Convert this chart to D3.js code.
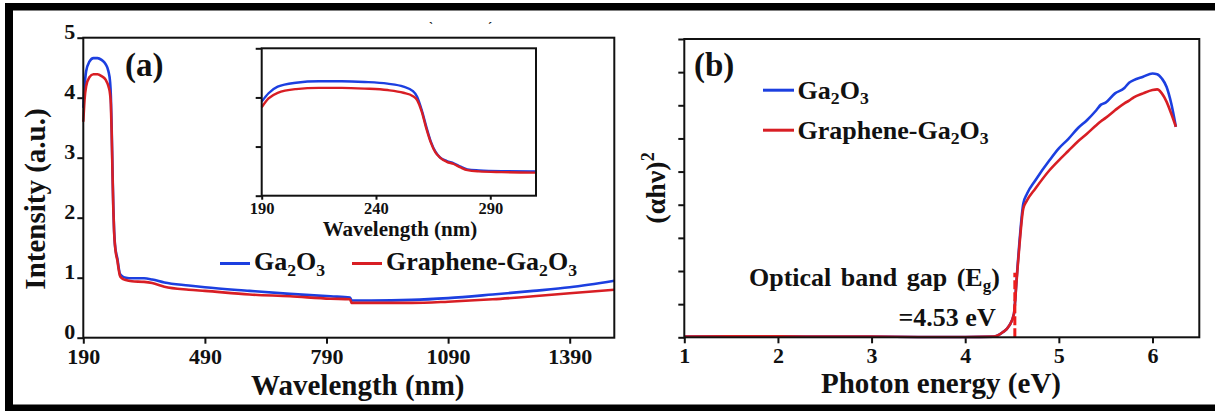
<!DOCTYPE html>
<html>
<head>
<meta charset="utf-8">
<script src="https://cdn.jsdelivr.net/npm/d3@7"></script>
<style>
  html, body { margin: 0; padding: 0; background: #fff; }
  svg { display: block; }
  text { font-family: "Liberation Serif", "Times New Roman", serif; font-weight: bold; fill: #111; }
</style>
</head>
<body>
<svg id="chart" width="1215" height="411"></svg>
<script>
// ---- Panel (a): intensity spectra ----
const wavelength = [190,193,197,205,215,225,235,245,252,256,258,260,262,264,266,268,271,274,277,280,285,295,310,
                    340,360,390,450,490,600,700,800,848,852,900,1000,1090,1200,1300,1390,1500];
const ga2o3Intensity = [3.83,4.17,4.44,4.60,4.66,4.66,4.63,4.56,4.44,4.27,4.03,3.49,2.81,2.20,1.79,1.56,1.41,1.32,1.18,1.07,1.03,1.00,0.99,
                        0.99,0.97,0.92,0.87,0.84,0.78,0.73,0.69,0.67,0.62,0.62,0.63,0.66,0.72,0.78,0.84,0.95];
const grapheneIntensity = [3.60,3.96,4.19,4.34,4.39,4.39,4.36,4.30,4.19,4.06,3.89,3.42,2.74,2.16,1.76,1.55,1.38,1.29,1.15,1.04,0.99,0.96,0.94,
                           0.93,0.91,0.85,0.80,0.78,0.72,0.69,0.65,0.64,0.58,0.58,0.58,0.60,0.64,0.69,0.74,0.80];
const xTicksA = [190, 490, 790, 1090, 1390];
const yTicksA = [0, 1, 2, 3, 4, 5];
const insetXTicks = [190, 240, 290];
const insetYTicks = [0, 2, 4, 6];

// ---- Panel (b): Tauc plot ----
const energy = [1.0,1.5,2.0,2.5,3.0,3.5,4.0,4.3,4.4,4.47,4.52,4.55,4.58,4.62,4.66,4.75,4.9,5.0,5.1,5.2,5.3,5.4,5.45,5.5,5.6,5.7,5.75,5.8,5.9,6.0,6.05,6.1,6.15,6.2,6.25];
const ga2o3Tauc = [0.02,0.03,0.03,0.02,0.02,0.01,0.01,0.02,0.15,0.35,0.70,1.80,2.90,4.03,4.33,4.74,5.34,5.70,5.98,6.30,6.55,6.85,7.02,7.08,7.36,7.52,7.68,7.76,7.86,7.96,7.94,7.81,7.56,7.06,6.35];
const grapheneTauc = [0.02,0.03,0.03,0.02,0.02,0.01,0.01,0.02,0.15,0.35,0.70,1.75,2.80,3.88,4.13,4.49,5.04,5.34,5.62,5.90,6.14,6.40,6.52,6.62,6.85,7.06,7.14,7.24,7.36,7.46,7.48,7.36,7.11,6.75,6.35];
const xTicksB = [1, 2, 3, 4, 5, 6];
const yTicksB = [0, 1, 2, 3, 4, 5, 6, 7, 8, 9];
const bandGap = 4.53;          // eV, marked by the dashed line
const bandGapLineTop = 1.95;

const seriesNames = ["Ga2O3", "Graphene-Ga2O3"];
const BLUE = "#1c3fe0";
const RED = "#d81e24";

const svg = d3.select("#chart");

// outer frame bars
svg.append("rect").attr("x", 5).attr("y", 3).attr("width", 1210).attr("height", 7.5).attr("fill", "#000");
svg.append("rect").attr("x", 5).attr("y", 3).attr("width", 8).attr("height", 408).attr("fill", "#000");
svg.append("rect").attr("x", 5).attr("y", 404.5).attr("width", 1210).attr("height", 7).attr("fill", "#000");

// small stray marks along the top edge
svg.append("text").attr("x", 429).attr("y", 31).style("font-size", "12px").text("`");
svg.append("text").attr("x", 488).attr("y", 31).style("font-size", "12px").text("\u00B4");

// text with subscripts, e.g. Ga2O3
function chemText(sel, x, y, size, label) {
  const t = sel.append("text").attr("x", x).attr("y", y).style("font-size", size + "px");
  const parts = label.match(/[A-Za-z\-]+|\d+/g);
  const shift = size * 0.22;
  let lowered = false;
  parts.forEach(p => {
    const isSub = /^\d+$/.test(p);
    const ts = t.append("tspan").text(p);
    if (isSub) {
      ts.style("font-size", (size * 0.68) + "px");
      if (!lowered) { ts.attr("dy", shift); lowered = true; }
    } else if (lowered) {
      ts.attr("dy", -shift); lowered = false;
    }
  });
  return t;
}

function styleAxis(g, fontSize) {
  g.selectAll("path.domain").remove();
  g.selectAll(".tick line").attr("stroke", "#111").attr("stroke-width", 2);
  g.selectAll(".tick text").style("font-size", fontSize + "px").style("font-family", "Liberation Serif, serif")
    .style("font-weight", "bold").attr("fill", "#111");
}

// ================= Panel (a) =================
const A = { left: 83.3, right: 614.3, top: 37.7, bottom: 337.7 };
const xA = d3.scaleLinear().domain([190, 1500]).range([A.left, A.right]);
const yA = d3.scaleLinear().domain([0, 5]).range([A.bottom, A.top]);

const gA = svg.append("g");
gA.append("g").attr("transform", `translate(0,${A.bottom})`)
  .call(d3.axisBottom(xA).tickValues(xTicksA).tickSize(6).tickPadding(5).tickFormat(d3.format("d")))
  .call(g => styleAxis(g, 22));
const yAxisA = gA.append("g").attr("transform", `translate(${A.left},0)`)
  .call(d3.axisLeft(yA).tickValues(yTicksA).tickSize(6).tickPadding(2).tickFormat(d3.format("d")))
  .call(g => styleAxis(g, 22));
yAxisA.selectAll(".tick text").attr("dy", "0.05em");

const lineA = (vals) => d3.line().x((d, i) => xA(wavelength[i])).y(d => yA(d)).curve(d3.curveMonotoneX)(vals);
gA.append("path").attr("d", lineA(ga2o3Intensity)).attr("fill", "none").attr("stroke", BLUE).attr("stroke-width", 2.6);
gA.append("path").attr("d", lineA(grapheneIntensity)).attr("fill", "none").attr("stroke", RED).attr("stroke-width", 2.6);

gA.append("rect").attr("x", A.left).attr("y", A.top).attr("width", A.right - A.left).attr("height", A.bottom - A.top)
  .attr("fill", "none").attr("stroke", "#111").attr("stroke-width", 2);

gA.append("text").attr("x", 125).attr("y", 76).style("font-size", "33px").text("(a)");
gA.append("text").attr("x", (A.left + A.right) / 2 + 9).attr("y", 395).attr("text-anchor", "middle")
  .style("font-size", "29px").text("Wavelength (nm)");
gA.append("text").attr("transform", "translate(45,199) rotate(-90)").attr("text-anchor", "middle")
  .style("font-size", "29px").text("Intensity (a.u.)");

// legend (a)
const legA = [{ x: 220, c: BLUE, name: seriesNames[0] }, { x: 352, c: RED, name: seriesNames[1] }];
legA.forEach(l => {
  gA.append("line").attr("x1", l.x).attr("x2", l.x + 30).attr("y1", 263.5).attr("y2", 263.5)
    .attr("stroke", l.c).attr("stroke-width", 3);
  chemText(gA, l.x + 34, 270, 26, l.name);
});

// inset
const I = { left: 261.7, right: 536, top: 48.3, bottom: 195.7 };
const xI = d3.scaleLinear().domain([190, 310]).range([I.left, I.right]);
const yI = d3.scaleLinear().domain([0, 6]).range([I.bottom, I.top]);
const gI = svg.append("g");
gI.append("rect").attr("x", I.left).attr("y", I.top).attr("width", I.right - I.left).attr("height", I.bottom - I.top)
  .attr("fill", "#fff");
gI.append("g").attr("transform", `translate(0,${I.bottom})`)
  .call(d3.axisBottom(xI).tickValues(insetXTicks).tickSize(4).tickPadding(3).tickFormat(d3.format("d")))
  .call(g => styleAxis(g, 16.5));
gI.append("g").attr("transform", `translate(${I.left},0)`)
  .call(d3.axisLeft(yI).tickValues(insetYTicks).tickSize(6).tickFormat(""))
  .call(g => styleAxis(g, 16.5));
const insetIdx = wavelength.map((w, i) => i).filter(i => wavelength[i] <= 310);
const lineI = (vals) => d3.line().x(i => xI(wavelength[i])).y(i => yI(vals[i])).curve(d3.curveMonotoneX)(insetIdx);
gI.append("path").attr("d", lineI(ga2o3Intensity)).attr("fill", "none").attr("stroke", BLUE).attr("stroke-width", 2.4);
gI.append("path").attr("d", lineI(grapheneIntensity)).attr("fill", "none").attr("stroke", RED).attr("stroke-width", 2.4);
gI.append("rect").attr("x", I.left).attr("y", I.top).attr("width", I.right - I.left).attr("height", I.bottom - I.top)
  .attr("fill", "none").attr("stroke", "#111").attr("stroke-width", 2);
gI.append("text").attr("x", 400).attr("y", 236).attr("text-anchor", "middle").style("font-size", "21px")
  .text("Wavelength (nm)");

// ================= Panel (b) =================
const B = { left: 684.3, right: 1199.3, top: 39, bottom: 337.3 };
const xB = d3.scaleLinear().domain([1, 6.5]).range([B.left, B.right]);
const yB = d3.scaleLinear().domain([0, 9]).range([B.bottom, B.top]);
const gB = svg.append("g");
gB.append("g").attr("transform", `translate(0,${B.bottom})`)
  .call(d3.axisBottom(xB).tickValues(xTicksB).tickSize(6).tickPadding(4).tickFormat(d3.format("d")))
  .call(g => styleAxis(g, 22));
gB.append("g").attr("transform", `translate(${B.left},0)`)
  .call(d3.axisLeft(yB).tickValues(yTicksB).tickSize(6).tickFormat(""))
  .call(g => styleAxis(g, 22));

const lineB = (vals) => d3.line().x((d, i) => xB(energy[i])).y(d => yB(d)).curve(d3.curveMonotoneX)(vals);
gB.append("path").attr("d", lineB(ga2o3Tauc)).attr("fill", "none").attr("stroke", BLUE).attr("stroke-width", 2.6);
gB.append("path").attr("d", lineB(grapheneTauc)).attr("fill", "none").attr("stroke", RED).attr("stroke-width", 2.6);

// band gap marker
gB.append("line").attr("x1", xB(bandGap)).attr("x2", xB(bandGap)).attr("y1", yB(0)).attr("y2", yB(bandGapLineTop))
  .attr("stroke", "#ee1c1c").attr("stroke-width", 3).attr("stroke-dasharray", "9,3");

gB.append("rect").attr("x", B.left).attr("y", B.top).attr("width", B.right - B.left).attr("height", B.bottom - B.top)
  .attr("fill", "none").attr("stroke", "#111").attr("stroke-width", 2);

gB.append("text").attr("x", 694).attr("y", 76).style("font-size", "33px").text("(b)");
gB.append("text").attr("x", 941).attr("y", 393).attr("text-anchor", "middle").style("font-size", "29px")
  .text("Photon energy (eV)");
const yl = gB.append("text").attr("transform", "translate(665,188) rotate(-90)").attr("text-anchor", "middle")
  .style("font-size", "28px");
yl.append("tspan").text("(\u03B1h\u03BD)");
yl.append("tspan").attr("dy", -11).style("font-size", "18px").text("2");

// legend (b)
const legB = [{ y: 98.7, c: BLUE, name: seriesNames[0] }, { y: 138.7, c: RED, name: seriesNames[1] }];
legB.forEach(l => {
  gB.append("line").attr("x1", 763).attr("x2", 794).attr("y1", l.y - 8.5).attr("y2", l.y - 8.5)
    .attr("stroke", l.c).attr("stroke-width", 3);
  chemText(gB, 797.6, l.y, 26, l.name);
});

// band gap annotation
const ann = gB.append("text").attr("x", 749).attr("y", 286).style("font-size", "26px").style("word-spacing", "3px");
ann.append("tspan").text("Optical band gap (E");
ann.append("tspan").attr("dy", 5).style("font-size", "17px").text("g");
ann.append("tspan").attr("dy", -5).text(")");
gB.append("text").attr("x", 995.7).attr("y", 326).attr("text-anchor", "end").style("font-size", "26px")
  .text(`=${bandGap} eV`);
</script>
</body>
</html>
